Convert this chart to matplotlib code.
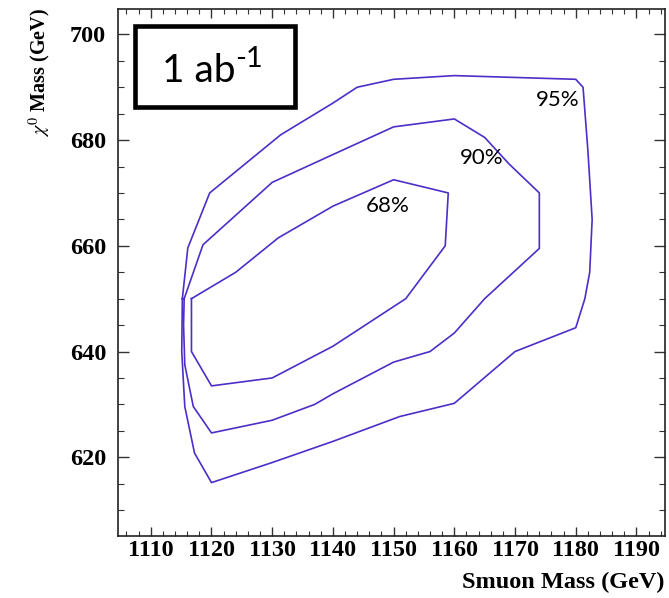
import numpy as np
import matplotlib
matplotlib.use('Agg')
import matplotlib.pyplot as plt
from matplotlib.patches import Rectangle
from matplotlib.ticker import MultipleLocator

'''Contour outlines read off the picture (smuon mass, chi0 mass), in GeV'''
c68_x = [1116.7, 1124.0, 1131.0, 1140.0, 1150.0, 1159.0, 1158.5, 1152.0, 1150.0, 1140.0, 1130.0, 1120.0, 1116.7]
c68_y = [650.0, 655.0, 661.5, 667.5, 672.5, 670.0, 660.0, 650.0, 648.5, 641.0, 635.0, 633.5, 640.0]

c90_x = [1115.5, 1118.6, 1130.0, 1139.5, 1150.0, 1160.0, 1165.0, 1169.0, 1174.0, 1174.0, 1165.0, 1160.0,
         1156.0, 1150.0, 1140.0, 1137.0, 1130.0, 1120.0, 1117.0, 1115.6, 1115.4]
c90_y = [650.0, 660.2, 672.0, 677.0, 682.5, 684.0, 680.5, 675.5, 670.0, 659.5, 650.0, 643.5,
         640.0, 638.0, 632.0, 630.0, 627.0, 624.6, 629.6, 637.5, 645.0]

c95_x = [1115.2, 1116.1, 1119.7, 1131.4, 1140.0, 1144.0, 1150.0, 1160.0, 1180.0, 1181.2, 1182.0, 1182.7,
         1182.3, 1181.5, 1180.0, 1170.0, 1160.0, 1151.0, 1140.0, 1130.0, 1120.0, 1117.2, 1115.6, 1115.1]
c95_y = [650.0, 659.6, 670.0, 681.0, 687.0, 690.0, 691.5, 692.2, 691.5, 690.0, 678.0, 665.0,
         655.0, 650.0, 644.5, 640.0, 630.2, 627.7, 623.0, 619.0, 615.2, 620.8, 629.6, 640.0]

labels = ['68%', '90%', '95%']
label_x = [1149.0, 1164.5, 1177.0]
label_y = [667.5, 676.6, 687.6]

plt.rcParams['mathtext.fontset'] = 'stix'
serif = 'Liberation Serif'
line_col = '#4d2ec8'

fig = plt.figure(figsize=(6.69, 5.98), dpi=100)
ax = fig.add_axes([118/669, 1 - 536/598, 547/669, 527/598])

for xs, ys in [(c68_x, c68_y), (c90_x, c90_y), (c95_x, c95_y)]:
    ax.plot(xs + xs[:1], ys + ys[:1], color=line_col, lw=1.2) #closed outline

for t, x, y in zip(labels, label_x, label_y):
    ax.text(x, y, t, ha='center', va='center', fontsize=16, family='Lato', color='black')

ax.set_xlim(1104.6, 1194.7)
ax.set_ylim(605.1, 704.8)
ax.xaxis.set_major_locator(MultipleLocator(10))
ax.xaxis.set_minor_locator(MultipleLocator(2))
ax.yaxis.set_major_locator(MultipleLocator(20))
ax.yaxis.set_minor_locator(MultipleLocator(5))
ax.tick_params(which='both', direction='in', top=True, right=True, color='#333333')
ax.tick_params(axis='x', which='major', length=6.5, width=1.0, pad=3)
ax.tick_params(axis='x', which='minor', length=3.5, width=0.8)
ax.tick_params(axis='y', which='major', length=8, width=1.0, pad=8.5)
ax.tick_params(axis='y', which='minor', length=4.5, width=0.8)
for lab in ax.get_xticklabels():
    lab.set_fontfamily(serif); lab.set_fontweight('bold'); lab.set_fontsize(17.5)
for lab in ax.get_yticklabels():
    lab.set_fontfamily(serif); lab.set_fontweight('bold'); lab.set_fontsize(17.5)
for s in ax.spines.values():
    s.set_linewidth(1.2)
    s.set_color('#222222')

'''Luminosity box'''
ax.add_patch(Rectangle((17/547, 1 - 97.5/527), 159.5/547, 80/527, transform=ax.transAxes,
                       facecolor='white', edgecolor='black', lw=3.3, zorder=5))
ax.text(43.7/547, 1 - 72.7/527, '1 ab', transform=ax.transAxes,
        ha='left', va='baseline', fontsize=28, family='Lato', zorder=6)
ax.text(117/547, 1 - 57.7/527, '-1', transform=ax.transAxes,
        ha='left', va='baseline', fontsize=21, family='Lato', zorder=6)

fig.text(665/669, 1 - 582/598, 'Smuon Mass (GeV)', ha='right', va='center',
         fontsize=17.5, family=serif, fontweight='bold')
fig.text(40/669, 1 - 8/598, r'$\chi^0$ Mass (GeV)', rotation=90, ha='center', va='top',
         fontsize=14.5, family=serif, fontweight='bold')

plt.savefig('out.png', dpi=100)
